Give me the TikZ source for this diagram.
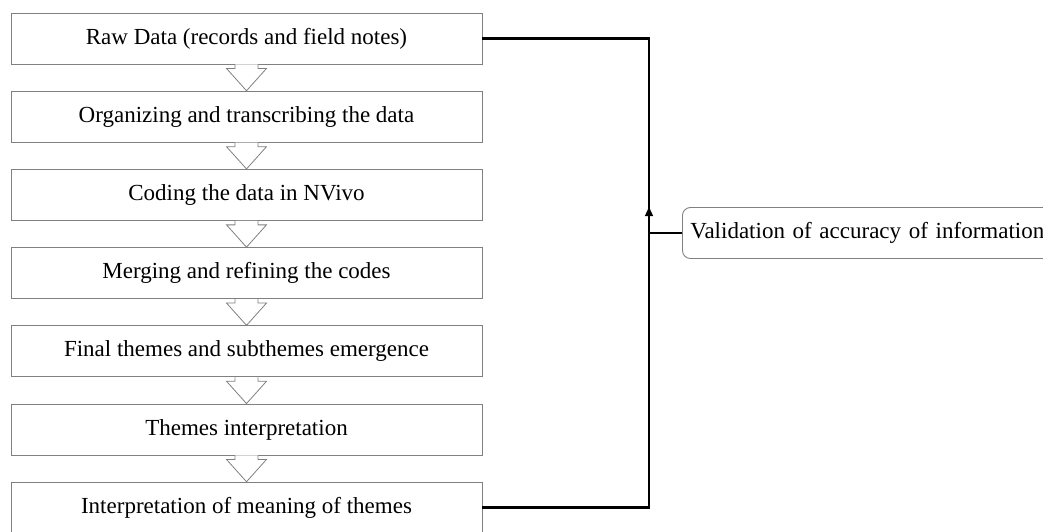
\documentclass[tikz,border=0pt]{standalone}
\usepackage{fontspec}
\setmainfont{Liberation Serif}
\usetikzlibrary{positioning,calc,arrows.meta}
\begin{document}
\begin{tikzpicture}[x=1pt, y=-1pt, node distance=26.3pt,
	stage/.style={draw=gray, line width=0.9pt, minimum width=471pt, minimum height=51pt, inner sep=0pt, font=\fontsize{23}{26}\selectfont},
	check/.style={draw=gray, line width=0.9pt, rounded corners=8pt, minimum height=51pt, minimum width=400pt, inner sep=0pt, text width=384pt, align=left, font=\fontsize{23}{26}\selectfont},
	hollow/.style={draw=gray, line width=0.8pt, fill=white},
	link/.style={line width=2.6pt}]
			\useasboundingbox (0,0) rectangle (1043,531);
			% the stages of the analysis
			\node[stage] (b1) at (246.5,38.5) {Raw Data (records and field notes)};
			\node[stage, below=of b1] (b2) {Organizing and transcribing the data};
			\node[stage, below=of b2] (b3) {Coding the data in NVivo};
			\node[stage, below=of b3] (b4) {Merging and refining the codes};
			\node[stage, below=of b4] (b5) {Final themes and subthemes emergence};
			\node[stage, below=of b5] (b6) {Themes interpretation};
			\node[stage, below=of b6] (b7) {Interpretation of meaning of themes};
			% hollow arrows between the stages
			\foreach \a/\b in {b1/b2, b2/b3, b3/b4, b4/b5, b5/b6, b6/b7}
				\draw[hollow] ($(\a.south)+(-11.5,0)$) -- ($(\a.south)+(-11.5,4)$) -- ($(\a.south)+(-20,4)$) -- (\b.north) -- ($(\a.south)+(20,4)$) -- ($(\a.south)+(11.5,4)$) -- ($(\a.south)+(11.5,0)$);
			% validation loop
			\node[check, anchor=west] (val) at (682,233) {Validation of accuracy of information};
			\coordinate (bus) at (649,233);
			\draw[link] (b1.east) -| (bus) |- (b7.east);
			\draw[link] (val.west) -- (bus);
			\draw[line width=1.2pt, -{Triangle[length=9pt, width=8pt]}] (bus) -- ($(bus)+(0,-26)$);
\end{tikzpicture}
\end{document}
